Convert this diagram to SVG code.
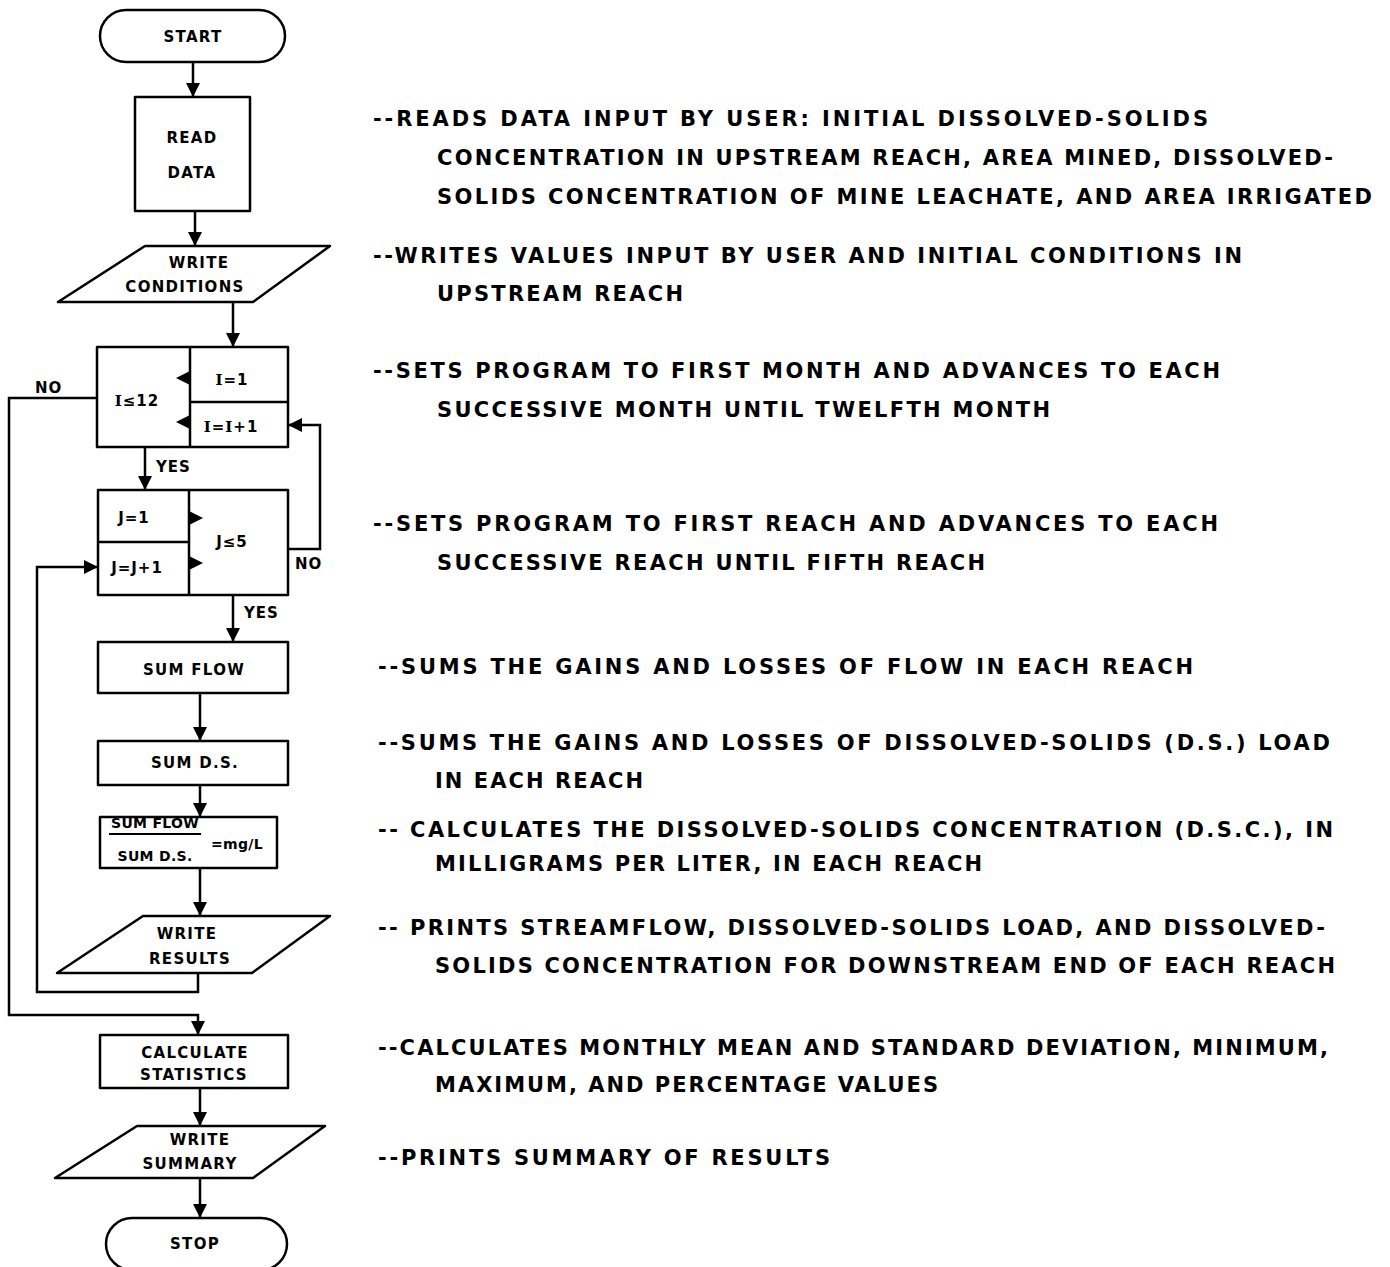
<svg xmlns="http://www.w3.org/2000/svg" width="1390" height="1267" viewBox="0 0 1390 1267">
<style>
.s{fill:#fff;stroke:#000;stroke-width:2.5;stroke-linejoin:round}
.c{fill:none;stroke:#000;stroke-width:2.5}
.t{font-family:"DejaVu Sans","Liberation Sans",Arial,sans-serif;font-weight:bold;font-size:15px;fill:#000;text-anchor:middle;letter-spacing:1.3px}
.l{font-family:"DejaVu Sans","Liberation Sans",Arial,sans-serif;font-weight:bold;font-size:15px;fill:#000;letter-spacing:1px}
.d{font-family:"DejaVu Sans","Liberation Sans",Arial,sans-serif;font-weight:bold;font-size:21px;fill:#000}
.sf{font-family:"DejaVu Serif","Liberation Serif",serif}
.tri{fill:#000}
</style>
<defs>
<marker id="ah" markerUnits="userSpaceOnUse" markerWidth="16" markerHeight="16" viewBox="0 0 16 16" refX="14" refY="8" orient="auto">
<path d="M0,1 L14,8 L0,15 Z" fill="#000"/>
</marker>
</defs>
<rect width="1390" height="1267" fill="#fff"/>

<g id="connectors">
<path class="c" d="M193,62 V97" marker-end="url(#ah)"/>
<path class="c" d="M195,211 V246" marker-end="url(#ah)"/>
<path class="c" d="M233,302 V347" marker-end="url(#ah)"/>
<path class="c" d="M145,447 V490" marker-end="url(#ah)"/>
<path class="c" d="M233,595 V642" marker-end="url(#ah)"/>
<path class="c" d="M200,693 V741" marker-end="url(#ah)"/>
<path class="c" d="M200,785 V817" marker-end="url(#ah)"/>
<path class="c" d="M200,868 V916" marker-end="url(#ah)"/>
<path class="c" d="M198,973 V992 H37 V567 H98" marker-end="url(#ah)"/>
<path class="c" d="M97,398 H9 V1015 H198 V1035" marker-end="url(#ah)"/>
<path class="c" d="M288,549 H320 V425 H288" marker-end="url(#ah)"/>
<path class="c" d="M200,1088 V1126" marker-end="url(#ah)"/>
<path class="c" d="M200,1178 V1218" marker-end="url(#ah)"/>
<text class="l" x="35" y="393">NO</text>
<text class="l" x="156" y="472">YES</text>
<text class="l" x="295" y="569">NO</text>
<text class="l" x="244" y="618">YES</text>
</g>

<g id="start">
<rect class="s" x="100" y="10" width="185" height="52" rx="26"/>
<text class="t" x="193" y="42">START</text>
</g>

<g id="read-data">
<rect class="s" x="135" y="97" width="115" height="114"/>
<text class="t" x="192" y="143">READ</text>
<text class="t" x="192" y="178">DATA</text>
</g>

<g id="write-conditions">
<polygon class="s" points="145,246 330,246 253,302 58,302"/>
<text class="t" x="199" y="268">WRITE</text>
<text class="t" x="185" y="292">CONDITIONS</text>
</g>

<g id="loop-i">
<rect class="s" x="97" y="347" width="191" height="100"/>
<path class="c" d="M190,347 V447 M190,402 H288"/>
<polygon class="tri" points="176,378 190,371 190,385"/>
<polygon class="tri" points="176,422 190,415 190,429"/>
<text class="t" x="137" y="406" style="letter-spacing:1px"><tspan class="sf">I</tspan>≤12</text>
<text class="t" x="232" y="385" style="letter-spacing:1px"><tspan class="sf">I</tspan>=1</text>
<text class="t" x="231" y="432" style="letter-spacing:1px"><tspan class="sf">I</tspan>=<tspan class="sf">I</tspan>+1</text>
</g>

<g id="loop-j">
<rect class="s" x="98" y="490" width="190" height="105"/>
<path class="c" d="M189,490 V595 M98,542 H189"/>
<polygon class="tri" points="203,518 189,511 189,525"/>
<polygon class="tri" points="203,563 189,556 189,570"/>
<text class="t" x="134" y="523" style="letter-spacing:1px">J=1</text>
<text class="t" x="137" y="573" style="letter-spacing:1px">J=J+1</text>
<text class="t" x="232" y="547" style="letter-spacing:1px">J≤5</text>
</g>

<g id="sum-flow">
<rect class="s" x="98" y="642" width="190" height="51"/>
<text class="t" x="194" y="675">SUM FLOW</text>
</g>

<g id="sum-ds">
<rect class="s" x="98" y="741" width="190" height="44"/>
<text class="t" x="195" y="768">SUM D.S.</text>
</g>

<g id="calc-mgl">
<rect class="s" x="100" y="817" width="177" height="51"/>
<text class="t" x="155" y="828" style="letter-spacing:0.3px;font-size:14px">SUM FLOW</text>
<line x1="109" y1="834" x2="201" y2="834" stroke="#000" stroke-width="2"/>
<text class="t" x="155" y="861" style="letter-spacing:0.3px;font-size:14px">SUM D.S.</text>
<text class="t" x="237" y="849" style="letter-spacing:0.3px;font-size:14px">=mg/L</text>
</g>

<g id="write-results">
<polygon class="s" points="143,916 330,916 252,973 57,973"/>
<text class="t" x="187" y="939">WRITE</text>
<text class="t" x="190" y="964">RESULTS</text>
</g>

<g id="calc-stats">
<rect class="s" x="100" y="1035" width="188" height="53"/>
<text class="t" x="195" y="1058">CALCULATE</text>
<text class="t" x="194" y="1080">STATISTICS</text>
</g>

<g id="write-summary">
<polygon class="s" points="137,1126 325,1126 253,1178 55,1178"/>
<text class="t" x="200" y="1145">WRITE</text>
<text class="t" x="190" y="1169">SUMMARY</text>
</g>

<g id="stop">
<rect class="s" x="106" y="1218" width="181" height="52" rx="26"/>
<text class="t" x="195" y="1249">STOP</text>
</g>

<g id="descriptions">
<text class="d" x="373" y="126" textLength="835" lengthAdjust="spacing">--READS DATA INPUT BY USER:  INITIAL DISSOLVED-SOLIDS</text>
<text class="d" x="437" y="165" textLength="896" lengthAdjust="spacing">CONCENTRATION IN UPSTREAM REACH, AREA MINED, DISSOLVED-</text>
<text class="d" x="437" y="204" textLength="935" lengthAdjust="spacing">SOLIDS CONCENTRATION OF MINE LEACHATE, AND AREA IRRIGATED</text>
<text class="d" x="373" y="263" textLength="869" lengthAdjust="spacing">--WRITES VALUES INPUT BY USER AND INITIAL CONDITIONS IN</text>
<text class="d" x="437" y="301" textLength="246" lengthAdjust="spacing">UPSTREAM REACH</text>
<text class="d" x="373" y="378" textLength="847" lengthAdjust="spacing">--SETS PROGRAM TO FIRST MONTH AND ADVANCES TO EACH</text>
<text class="d" x="437" y="417" textLength="613" lengthAdjust="spacing">SUCCESSIVE MONTH UNTIL TWELFTH MONTH</text>
<text class="d" x="373" y="531" textLength="845" lengthAdjust="spacing">--SETS PROGRAM TO FIRST REACH AND ADVANCES TO EACH</text>
<text class="d" x="437" y="570" textLength="548" lengthAdjust="spacing">SUCCESSIVE REACH UNTIL FIFTH REACH</text>
<text class="d" x="378" y="674" textLength="815" lengthAdjust="spacing">--SUMS THE GAINS AND LOSSES OF FLOW IN EACH REACH</text>
<text class="d" x="378" y="750" textLength="952" lengthAdjust="spacing">--SUMS THE GAINS AND LOSSES OF DISSOLVED-SOLIDS (D.S.) LOAD</text>
<text class="d" x="435" y="788" textLength="208" lengthAdjust="spacing">IN EACH REACH</text>
<text class="d" x="378" y="837" textLength="955" lengthAdjust="spacing">-- CALCULATES THE DISSOLVED-SOLIDS CONCENTRATION (D.S.C.), IN</text>
<text class="d" x="435" y="871" textLength="547" lengthAdjust="spacing">MILLIGRAMS PER LITER, IN EACH REACH</text>
<text class="d" x="378" y="935" textLength="947" lengthAdjust="spacing">-- PRINTS STREAMFLOW, DISSOLVED-SOLIDS LOAD, AND DISSOLVED-</text>
<text class="d" x="435" y="973" textLength="900" lengthAdjust="spacing">SOLIDS CONCENTRATION FOR DOWNSTREAM END OF EACH REACH</text>
<text class="d" x="378" y="1055" textLength="950" lengthAdjust="spacing">--CALCULATES MONTHLY MEAN AND STANDARD DEVIATION, MINIMUM,</text>
<text class="d" x="435" y="1092" textLength="503" lengthAdjust="spacing">MAXIMUM, AND PERCENTAGE VALUES</text>
<text class="d" x="378" y="1165" textLength="452" lengthAdjust="spacing">--PRINTS SUMMARY OF RESULTS</text>
</g>
</svg>
